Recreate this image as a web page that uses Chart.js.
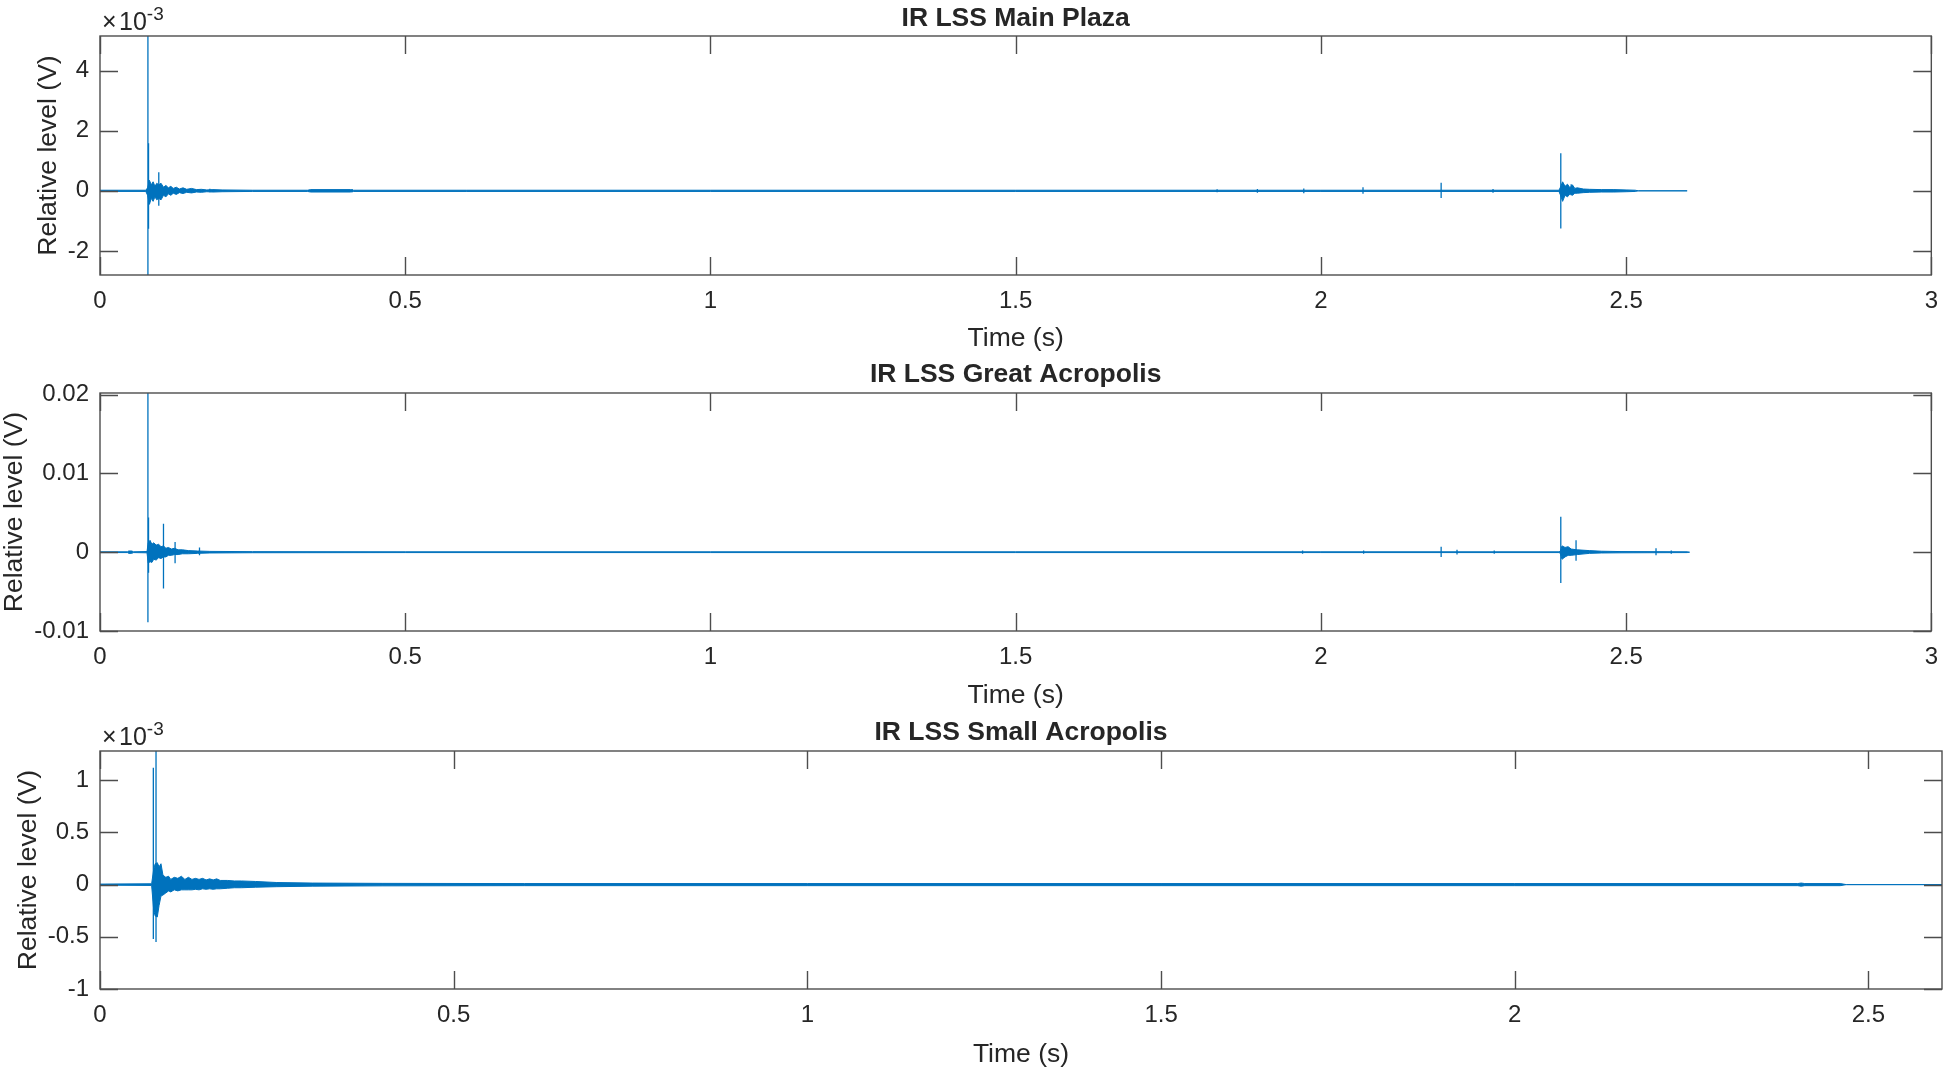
<!DOCTYPE html>
<html>
<head>
<meta charset="utf-8">
<title>IR LSS</title>
<script src="https://cdn.jsdelivr.net/npm/chart.js@4.4.1/dist/chart.umd.min.js"></script>
<style>
  html, body { margin: 0; padding: 0; background: #fff; }
  body { width: 1950px; height: 1069px; position: relative; overflow: hidden; }
  canvas { position: absolute; left: 0; }
</style>
</head>
<body>
<canvas id="plaza" width="1950" height="356" style="top:0px"></canvas>
<canvas id="great" width="1950" height="357" style="top:356px"></canvas>
<canvas id="small" width="1950" height="355" style="top:714px"></canvas>
<script>
// Values. Each response is split in a band (the running
// upper/lower envelope of the ringing) and a list of single sharp spikes.

// Main Plaza, in units of 1e-3 V
const plazaBandTime = [0, 0.075, 0.078, 0.081, 0.084, 0.087, 0.09, 0.093, 0.096, 0.1, 0.104, 0.108, 0.112, 0.116, 0.12, 0.125, 0.13, 0.136, 0.142, 0.15, 0.158, 0.166, 0.175, 0.185, 0.2, 0.25, 0.34, 0.345, 0.41, 0.415, 0.6, 1.0, 1.5, 2.0, 2.39, 2.392, 2.396, 2.4, 2.404, 2.408, 2.412, 2.416, 2.42, 2.43, 2.44, 2.46, 2.48, 2.5, 2.515, 2.52, 2.6];
const plazaBandHigh = [0.02, 0.02, 0.1, 0.35, 0.2, 0.3, 0.15, 0.25, 0.2, 0.25, 0.12, 0.18, 0.1, 0.15, 0.08, 0.12, 0.06, 0.1, 0.05, 0.08, 0.04, 0.05, 0.03, 0.04, 0.03, 0.02, 0.02, 0.04, 0.04, 0.02, 0.02, 0.02, 0.02, 0.02, 0.02, 0.1, 0.3, 0.15, 0.22, 0.1, 0.2, 0.08, 0.1, 0.06, 0.05, 0.04, 0.04, 0.03, 0.02, 0, 0];
const plazaBandLow = [-0.02, -0.02, -0.15, -0.45, -0.25, -0.35, -0.2, -0.3, -0.25, -0.3, -0.15, -0.2, -0.1, -0.15, -0.08, -0.12, -0.06, -0.09, -0.05, -0.07, -0.04, -0.05, -0.03, -0.04, -0.03, -0.02, -0.02, -0.04, -0.04, -0.02, -0.02, -0.02, -0.02, -0.02, -0.02, -0.12, -0.35, -0.15, -0.2, -0.1, -0.15, -0.08, -0.08, -0.06, -0.05, -0.04, -0.04, -0.03, -0.02, 0, 0];
const plazaSpikeTime = [0.0785, 0.0795, 0.0963, 0.18, 0.413, 1.83, 1.896, 1.972, 2.069, 2.197, 2.282, 2.393, 2.41];
const plazaSpikeHigh = [5.15, 1.58, 0.62, 0.07, 0.06, 0.05, 0.06, 0.08, 0.12, 0.27, 0.06, 1.25, 0.22];
const plazaSpikeLow = [-2.8, -1.26, -0.5, -0.05, -0.05, -0.05, -0.06, -0.08, -0.1, -0.24, -0.06, -1.25, -0.15];

// Great Acropolis, in V
const greatBandTime = [0, 0.045, 0.047, 0.052, 0.055, 0.077, 0.079, 0.082, 0.085, 0.088, 0.092, 0.096, 0.1, 0.104, 0.108, 0.112, 0.117, 0.122, 0.128, 0.135, 0.145, 0.16, 0.18, 0.25, 0.5, 1.0, 1.5, 2.0, 2.39, 2.392, 2.395, 2.4, 2.405, 2.41, 2.42, 2.44, 2.46, 2.49, 2.6, 2.604];
const greatBandHigh = [0.00005, 0.00005, 0.00015, 0.00015, 0.00005, 0.00008, 0.0012, 0.0015, 0.001, 0.0012, 0.0009, 0.001, 0.0007, 0.0008, 0.0005, 0.0006, 0.0004, 0.0005, 0.0003, 0.0003, 0.0002, 0.00015, 0.0001, 0.00007, 0.00005, 0.00005, 0.00005, 0.00005, 0.00005, 0.0001, 0.0008, 0.0006, 0.0007, 0.0004, 0.0003, 0.0002, 0.00012, 0.00008, 0.00005, 0];
const greatBandLow = [-0.00005, -0.00005, -0.00015, -0.00015, -0.00005, -0.00008, -0.0014, -0.0012, -0.0013, -0.0009, -0.001, -0.0007, -0.0008, -0.0006, -0.0006, -0.0004, -0.0004, -0.0003, -0.0003, -0.0002, -0.0002, -0.00015, -0.0001, -0.00007, -0.00005, -0.00005, -0.00005, -0.00005, -0.00005, -0.0001, -0.0009, -0.0006, -0.0004, -0.0004, -0.0003, -0.00015, -0.0001, -0.00008, -0.00005, 0];
const greatSpikeTime = [0.0785, 0.0795, 0.104, 0.123, 0.163, 1.97, 2.07, 2.197, 2.223, 2.284, 2.393, 2.418, 2.549, 2.574];
const greatSpikeHigh = [0.0202, 0.0044, 0.0036, 0.0013, 0.0006, 0.0002, 0.0002, 0.0007, 0.0003, 0.0002, 0.0045, 0.0015, 0.0005, 0.0002];
const greatSpikeLow = [-0.0089, -0.0026, -0.0046, -0.0014, -0.0004, -0.0002, -0.0002, -0.0006, -0.0003, -0.0002, -0.0039, -0.0011, -0.0004, -0.0002];

// Small Acropolis, in units of 1e-3 V
const smallBandTime = [0, 0.073, 0.076, 0.078, 0.081, 0.0835, 0.0862, 0.089, 0.093, 0.097, 0.1, 0.105, 0.11, 0.115, 0.12, 0.125, 0.13, 0.135, 0.14, 0.145, 0.15, 0.155, 0.16, 0.165, 0.17, 0.18, 0.19, 0.2, 0.22, 0.25, 0.3, 0.4, 0.6, 1.0, 1.5, 2.0, 2.4, 2.405, 2.41, 2.46, 2.469, 2.604];
const smallBandHigh = [0.005, 0.008, 0.15, 0.2, 0.21, 0.17, 0.2, 0.09, 0.07, 0.08, 0.05, 0.07, 0.06, 0.08, 0.05, 0.07, 0.05, 0.06, 0.05, 0.06, 0.045, 0.055, 0.045, 0.055, 0.04, 0.04, 0.035, 0.035, 0.03, 0.02, 0.015, 0.012, 0.01, 0.01, 0.01, 0.01, 0.01, 0.015, 0.01, 0.01, 0, 0];
const smallBandLow = [-0.005, -0.008, -0.25, -0.3, -0.31, -0.2, -0.11, -0.1, -0.08, -0.06, -0.07, -0.05, -0.06, -0.05, -0.05, -0.05, -0.05, -0.045, -0.05, -0.04, -0.045, -0.04, -0.045, -0.04, -0.04, -0.035, -0.03, -0.03, -0.025, -0.02, -0.015, -0.012, -0.01, -0.01, -0.01, -0.01, -0.01, -0.015, -0.01, -0.01, 0, 0];
const smallSpikeTime = [0.0754, 0.0792];
const smallSpikeHigh = [1.12, 1.3];
const smallSpikeLow = [-0.52, -0.55];

const plazaYTicks = [-2, 0, 2, 4];
const greatYTicks = [-0.01, 0, 0.01, 0.02];
const smallYTicks = [-1, -0.5, 0, 0.5, 1];
const timeTicks = [0, 0.5, 1, 1.5, 2, 2.5, 3];
const smallTimeTicks = [0, 0.5, 1, 1.5, 2, 2.5];

const FONT = "'Liberation Sans', Arial, Helvetica, sans-serif";
const INK = '#262626';
const WAVE = '#0072BD';

// MATLAB style box with inward ticks and the x10^n multiplier
const matlabFrame = {
    id: 'matlabFrame',
    afterDatasetsDraw(chart, args, opts) {
        const { ctx, chartArea: a, scales: { x, y } } = chart;
        ctx.save();
        ctx.strokeStyle = '#4d4d4d';
        ctx.lineWidth = 1.4;
        ctx.strokeRect(a.left, a.top, a.right - a.left, a.bottom - a.top);
        ctx.beginPath();
        x.ticks.forEach(t => {
            const px = Math.round(x.getPixelForValue(t.value)) + 0.5;
            ctx.moveTo(px, a.bottom); ctx.lineTo(px, a.bottom - 18);
            ctx.moveTo(px, a.top); ctx.lineTo(px, a.top + 18);
        });
        y.ticks.forEach(t => {
            const py = Math.round(y.getPixelForValue(t.value)) + 0.5;
            ctx.moveTo(a.left, py); ctx.lineTo(a.left + 18, py);
            ctx.moveTo(a.right, py); ctx.lineTo(a.right - 18, py);
        });
        ctx.stroke();
        if (opts.exponent) {
            ctx.fillStyle = INK;
            ctx.textBaseline = 'alphabetic';
            ctx.font = '25px ' + FONT;
            ctx.fillText('\u00d7', a.left + 2, a.top - 6);
            ctx.fillText('10', a.left + 19, a.top - 6);
            const w = ctx.measureText('10').width;
            ctx.font = '19px ' + FONT;
            ctx.fillText(opts.exponent, a.left + 19 + w, a.top - 16);
        }
        ctx.restore();
    }
};

function points(time, vals) {
    return time.map((t, i) => ({ x: t, y: vals[i] }));
}

// each spike is a vertical stroke, separated from the next by a gap
function spikes(time, high, low) {
    const pts = [];
    time.forEach((t, i) => {
        pts.push({ x: t, y: high[i] }, { x: t, y: low[i] }, { x: t, y: null });
    });
    return pts;
}

function makePanel(id, cfg) {
    const ctx = document.getElementById(id).getContext('2d');
    const line = { showLine: true, borderColor: WAVE, pointRadius: 0, tension: 0 };
    return new Chart(ctx, {
        type: 'scatter',
        data: {
            datasets: [
                { ...line, data: points(cfg.bandTime, cfg.bandHigh), borderWidth: 1, fill: '+1', backgroundColor: WAVE },
                { ...line, data: points(cfg.bandTime, cfg.bandLow), borderWidth: 1, fill: false },
                { ...line, data: spikes(cfg.spikeTime, cfg.spikeHigh, cfg.spikeLow), borderWidth: 1.3, spanGaps: false, fill: false }
            ]
        },
        options: {
            responsive: false,
            animation: false,
            layout: { padding: { right: 8, left: 0, top: 0, bottom: 0 } },
            scales: {
                x: {
                    type: 'linear',
                    min: 0,
                    max: cfg.xMax,
                    afterBuildTicks: s => { s.ticks = cfg.xTicks.map(v => ({ value: v })); },
                    afterFit: s => { s.height = cfg.xHeight; },
                    grid: { display: false, drawTicks: false },
                    border: { display: false },
                    ticks: {
                        autoSkip: false, maxRotation: 0, padding: 12, color: INK,
                        font: { family: FONT, size: 24 },
                        callback: v => String(v)
                    },
                    title: {
                        display: true, text: 'Time (s)', color: INK,
                        font: { family: FONT, size: 26.5, lineHeight: 1 },
                        padding: { top: 0, bottom: cfg.xTitlePad }
                    }
                },
                y: {
                    type: 'linear',
                    min: cfg.yMin,
                    max: cfg.yMax,
                    afterBuildTicks: s => { s.ticks = cfg.yTicks.map(v => ({ value: v })); },
                    afterFit: s => { s.width = 100; },
                    grid: { display: false, drawTicks: false },
                    border: { display: false },
                    ticks: {
                        autoSkip: false, padding: 11, color: INK,
                        font: { family: FONT, size: 24 },
                        callback: v => String(v)
                    },
                    title: {
                        display: true, text: 'Relative level (V)', color: INK,
                        font: { family: FONT, size: 26.5, lineHeight: 1 },
                        padding: { top: cfg.yTitlePad, bottom: 0 }
                    }
                }
            },
            plugins: {
                legend: { display: false },
                tooltip: { enabled: false },
                title: {
                    display: true,
                    fullSize: false,
                    text: cfg.title,
                    color: INK,
                    font: { family: FONT, size: 26.5, weight: 'bold' },
                    padding: { top: 2.5, bottom: cfg.titlePad }
                },
                matlabFrame: { exponent: cfg.exponent }
            }
        },
        plugins: [matlabFrame]
    });
}

makePanel('plaza', {
    title: 'IR LSS Main Plaza',
    bandTime: plazaBandTime, bandHigh: plazaBandHigh, bandLow: plazaBandLow,
    spikeTime: plazaSpikeTime, spikeHigh: plazaSpikeHigh, spikeLow: plazaSpikeLow,
    xMax: 3, xTicks: timeTicks,
    yMin: -2.8, yMax: 5.15, yTicks: plazaYTicks,
    exponent: '-3',
    titlePad: 1.7, xHeight: 81, xTitlePad: 4.25, yTitlePad: 35
});

makePanel('great', {
    title: 'IR LSS Great Acropolis',
    bandTime: greatBandTime, bandHigh: greatBandHigh, bandLow: greatBandLow,
    spikeTime: greatSpikeTime, spikeHigh: greatSpikeHigh, spikeLow: greatSpikeLow,
    xMax: 3, xTicks: timeTicks,
    yMin: -0.01, yMax: 0.0202, yTicks: greatYTicks,
    exponent: null,
    titlePad: 2.7, xHeight: 82, xTitlePad: 4.25, yTitlePad: 1
});

makePanel('small', {
    title: 'IR LSS Small Acropolis',
    bandTime: smallBandTime, bandHigh: smallBandHigh, bandLow: smallBandLow,
    spikeTime: smallSpikeTime, spikeHigh: smallSpikeHigh, spikeLow: smallSpikeLow,
    xMax: 2.604, xTicks: smallTimeTicks,
    yMin: -1, yMax: 1.28, yTicks: smallYTicks,
    exponent: '-3',
    titlePad: 2.7, xHeight: 80, xTitlePad: 1.05, yTitlePad: 15.75
});
</script>
</body>
</html>
